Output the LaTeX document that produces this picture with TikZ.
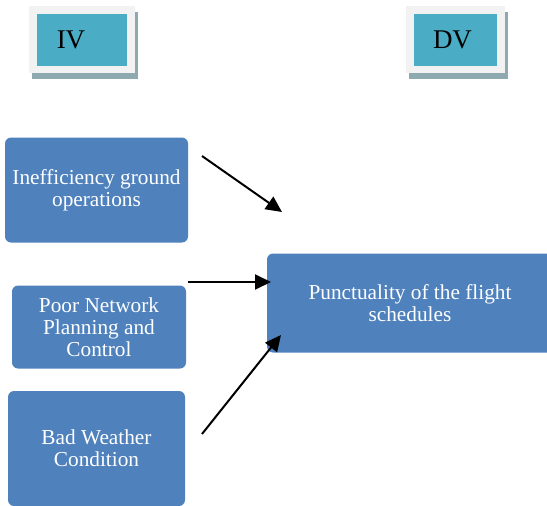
\documentclass[tikz,border=0pt]{standalone}
\usepackage{fontspec}
\setmainfont{Liberation Serif}
\usepackage{xcolor}
\usepackage{tikz}
\usetikzlibrary{arrows.meta, shadows}

\definecolor{boxblue}{HTML}{4F81BD}
\definecolor{varteal}{HTML}{4BACC6}
\definecolor{framegray}{HTML}{F2F2F2}
\definecolor{shadowgray}{HTML}{8EA9B0}

\tikzset{
  factor/.style={fill=boxblue, rounded corners=6pt, text=white, align=center,
    font=\fontsize{21.3}{22}\selectfont, inner sep=0pt},
  varframe/.style={fill=framegray, minimum height=67pt, inner sep=0pt,
    drop shadow={shadow xshift=3pt, shadow yshift=-6pt, fill=shadowgray, opacity=1}},
  varbox/.style={fill=varteal, minimum height=52pt, inner sep=0pt,
    font=\fontsize{27}{30}\selectfont},
}

\begin{document}
\begin{tikzpicture}[x=1pt, y=-1pt, >={Triangle[length=16pt, width=15pt]}, line width=2pt]
    \useasboundingbox (0,0) rectangle (547,506);

        \node[varframe, minimum width=106pt] (ivframe) at (82,39.5) {};
        \node[varbox, minimum width=90pt] (iv) at (82,40) {\hspace*{-22pt}IV};
        \node[varframe, minimum width=99pt] (dvframe) at (455.5,39.5) {};
        \node[varbox, minimum width=83pt] (dv) at (455.5,40) {\hspace*{-6pt}DV};

        \node[factor, minimum width=183pt, minimum height=105pt] (ground) at (96.5,190)
            {Inefficiency ground\\operations};
        \node[factor, minimum width=174pt, minimum height=83pt] (network) at (99,327)
            {Poor Network\\Planning and\\Control};
        \node[factor, minimum width=177pt, minimum height=115pt] (weather) at (96.5,448.5)
            {Bad Weather\\Condition};
        \node[factor, minimum width=286pt, minimum height=99pt] (punct) at (410,303)
            {Punctuality of the flight\\schedules};

        % free arrow ends
        \coordinate (g1) at (202,156);
        \coordinate (g2) at (282,212);
        \coordinate (n1) at (188,282);
        \coordinate (n2) at (271,282);
        \coordinate (w1) at (202,434);
        \coordinate (w2) at (281,335);

        \path[->]
        (g1) edge (g2)
        (n1) edge (n2)
        (w1) edge (w2);

    \end{tikzpicture}
\end{document}
